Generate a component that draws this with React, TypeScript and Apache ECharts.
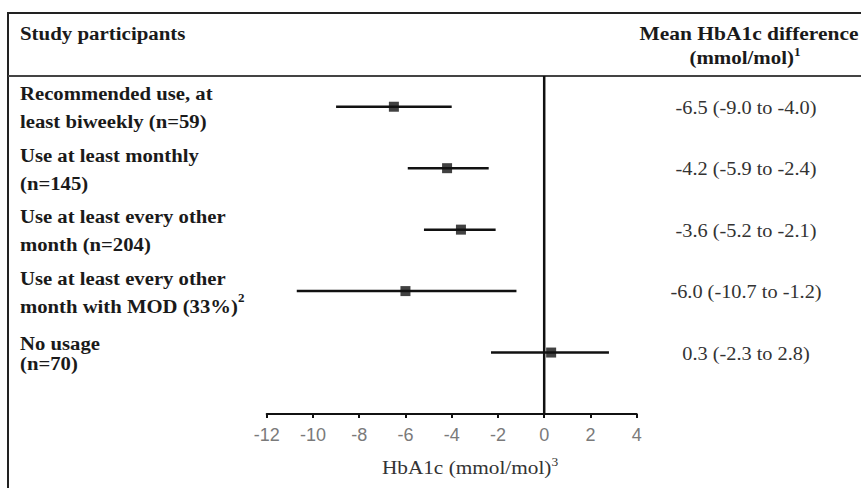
import React, { useEffect, useRef } from "react";
import * as echarts from "echarts";

const rowLabels = [
  "Recommended use, at\nleast biweekly (n=59)",
  "Use at least monthly\n(n=145)",
  "Use at least every other\nmonth (n=204)",
  "Use at least every other\nmonth with MOD (33%)",
  "No usage\n(n=70)",
];
const labelNotes = ["", "", "", "2", ""];
const estimates = [-6.5, -4.2, -3.6, -6.0, 0.3];
const lower = [-9.0, -5.9, -5.2, -10.7, -2.3];
const upper = [-4.0, -2.4, -2.1, -1.2, 2.8];
const xMin = -12;
const xMax = 4;
const xStep = 2;

const SERIF = "'Liberation Serif', 'Times New Roman', serif";
const SANS = "'Liberation Sans', Arial, sans-serif";

const fmt = (v: number) => v.toFixed(1);

export default function App() {
  const ref = useRef<HTMLDivElement>(null);
  useEffect(() => {
    if (!ref.current) return;
    const chart = echarts.init(ref.current, undefined, { renderer: "svg" });
    const n = rowLabels.length;
    const ciData = rowLabels.map((_, i) => [i, lower[i], upper[i]]);
    const pointData = estimates.map((e, i) => [e, i]);

    chart.setOption({
      animation: false,
      grid: { left: 266.7, right: 224.3, top: 76, bottom: 74 },
      xAxis: {
        type: "value",
        min: xMin,
        max: xMax,
        interval: xStep,
        axisLine: { show: true, onZero: false, lineStyle: { color: "#111", width: 2 } },
        axisTick: { show: true, length: 4, lineStyle: { color: "#111", width: 2 } },
        axisLabel: { color: "#7a7a7a", fontFamily: SANS, fontSize: 18, margin: 12 },
        splitLine: { show: false },
      },
      yAxis: {
        type: "value",
        min: -0.5,
        max: n,
        inverse: true,
        show: false,
        splitLine: { show: false },
      },
      series: [
        {
          type: "line",
          data: [
            [0, -0.5],
            [0, n],
          ],
          symbol: "none",
          lineStyle: { color: "#111", width: 2.5 },
          z: 1,
        },
        {
          type: "custom",
          data: ciData,
          encode: { x: [1, 2], y: 0 },
          z: 2,
          renderItem: (params: any, api: any) => {
            const i = api.value(0);
            const lo = api.value(1);
            const hi = api.value(2);
            const p1 = api.coord([lo, i]);
            const p2 = api.coord([hi, i]);
            const lines = rowLabels[i].split("\n");
            const note = labelNotes[i];
            const labelText =
              lines.map((l) => `{b|${l}}`).join("\n") + (note ? `{s|${note}}` : "");
            const lh = i === n - 1 ? 20 : 28;
            return {
              type: "group",
              children: [
                {
                  type: "line",
                  shape: { x1: p1[0], y1: p1[1], x2: p2[0], y2: p2[1] },
                  style: { stroke: "#111", lineWidth: 2.5 },
                },
                {
                  type: "text",
                  x: 20,
                  y: p1[1] + 1,
                  scaleX: 1.09,
                  style: {
                    text: labelText,
                    align: "left",
                    verticalAlign: "middle",
                    rich: {
                      b: {
                        fontFamily: SERIF,
                        fontWeight: "bold",
                        fontSize: 19,
                        lineHeight: lh,
                        fill: "#1a1a1a",
                      },
                      s: {
                        fontFamily: SERIF,
                        fontWeight: "bold",
                        fontSize: 12,
                        lineHeight: lh,
                        fill: "#1a1a1a",
                        verticalAlign: "top",
                        padding: [0, 0, 10, 0],
                      },
                    },
                  },
                },
                {
                  type: "text",
                  x: 746,
                  y: p1[1] + 1,
                  scaleX: 1.13,
                  style: {
                    text: `${fmt(estimates[i])} (${fmt(lower[i])} to ${fmt(upper[i])})`,
                    align: "center",
                    verticalAlign: "middle",
                    fontFamily: SERIF,
                    fontSize: 18,
                    fill: "#333",
                  },
                },
              ],
            };
          },
        },
        {
          type: "scatter",
          data: pointData,
          symbol: "rect",
          symbolSize: 10,
          itemStyle: { color: "#111" },
          z: 3,
        },
      ],
      graphic: [
        {
          type: "rect",
          shape: { x: 8, y: 13, width: 870, height: 490 },
          style: { fill: "none", stroke: "#222", lineWidth: 2 },
          silent: true,
        },
        {
          type: "line",
          shape: { x1: 8, y1: 76, x2: 861, y2: 76 },
          style: { stroke: "#444", lineWidth: 2 },
          silent: true,
        },
        {
          type: "text",
          x: 20,
          y: 33,
          scaleX: 1.1,
          style: {
            text: "Study participants",
            fontFamily: SERIF,
            fontWeight: "bold",
            fontSize: 19,
            fill: "#1a1a1a",
            verticalAlign: "middle",
          },
        },
        {
          type: "text",
          x: 749,
          y: 33,
          scaleX: 1.13,
          style: {
            text: "Mean HbA1c difference",
            fontFamily: SERIF,
            fontWeight: "bold",
            fontSize: 19,
            fill: "#1a1a1a",
            align: "center",
            verticalAlign: "middle",
          },
        },
        {
          type: "text",
          x: 745,
          y: 57,
          scaleX: 1.1,
          style: {
            text: "{b|(mmol/mol)}{s|1}",
            align: "center",
            verticalAlign: "middle",
            rich: {
              b: { fontFamily: SERIF, fontWeight: "bold", fontSize: 19, fill: "#1a1a1a" },
              s: {
                fontFamily: SERIF,
                fontWeight: "bold",
                fontSize: 12,
                fill: "#1a1a1a",
                padding: [0, 0, 10, 0],
              },
            },
          },
        },
        {
          type: "text",
          x: 470,
          y: 467,
          scaleX: 1.12,
          style: {
            text: "{b|HbA1c (mmol/mol)}{s|3}",
            align: "center",
            verticalAlign: "middle",
            rich: {
              b: { fontFamily: SERIF, fontSize: 19, fill: "#333" },
              s: { fontFamily: SERIF, fontSize: 12, fill: "#333", padding: [0, 0, 10, 0] },
            },
          },
        },
      ],
    });
    return () => chart.dispose();
  }, []);
  return <div ref={ref} style={{ width: 861, height: 488, position: "absolute", left: 0, top: 0 }} />;
}
